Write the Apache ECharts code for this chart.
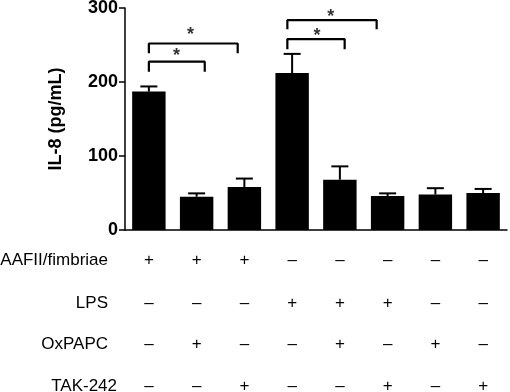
<!DOCTYPE html>
<html>
<head>
<meta charset="utf-8">
<script src="https://cdn.jsdelivr.net/npm/echarts@6/dist/echarts.min.js"></script>
<style>
  html, body { margin: 0; padding: 0; background: #fff; }
  #chart { width: 510px; height: 392px; }
</style>
</head>
<body>
<div id="chart"></div>
<script>
// groups (one per column of the treatment table)
var groups = ['G1', 'G2', 'G3', 'G4', 'G5', 'G6', 'G7', 'G8'];
// IL-8 mean and error (pg/mL)
var il8Mean = [187, 45, 58, 212, 68, 46, 48, 50];
var il8Err = [7, 4.5, 11.5, 26, 18, 3.5, 8.5, 5.5];

// treatment table below the bars
var rowNames = ['AAFII/fimbriae', 'LPS', 'OxPAPC', 'TAK-242'];
var rowAAFII = ['+', '+', '+', '–', '–', '–', '–', '–'];
var rowLPS = ['–', '–', '–', '+', '+', '+', '–', '–'];
var rowOxPAPC = ['–', '+', '–', '–', '+', '–', '+', '–'];
var rowTAK = ['–', '–', '+', '–', '–', '+', '–', '+'];

// significance brackets: [xLeft, xRight, yTop, yDrop] (x in group index units)
var brackets = [
  [0, 1.17, 227.5, 214],
  [0, 1.86, 252, 239],
  [2.9, 4.1, 258, 244.3],
  [2.9, 4.77, 283.6, 271.4]
];
// asterisks: [x, y]
var stars = [[0.58, 240], [0.87, 268.7], [3.52, 267], [3.81, 293]];

var FONT = 'Arial, "Liberation Sans", Helvetica, sans-serif';
var chart = echarts.init(document.getElementById('chart'));

var tableRows = [rowAAFII, rowLPS, rowOxPAPC, rowTAK];
var rowOffsets = [30, 73, 114, 156];
var rowGaps = [17, 17, 17, 8];

var xAxes = [{
  type: 'category',
  data: groups,
  position: 'bottom',
  axisLine: { onZero: false, lineStyle: { color: '#000', width: 1.5 } },
  axisTick: { alignWithLabel: true, length: 5, lineStyle: { color: '#000', width: 1.5 } },
  axisLabel: { show: false },
  splitLine: { show: false }
}, {
  // hidden value axis for brackets and stars
  type: 'value',
  min: -0.5,
  max: 7.5,
  show: false
}];

tableRows.forEach(function (row, i) {
  xAxes.push({
    type: 'category',
    data: row,
    position: 'bottom',
    offset: rowOffsets[i],
    name: rowNames[i],
    nameLocation: 'start',
    nameGap: rowGaps[i],
    nameTextStyle: { fontFamily: FONT, fontSize: 17, color: '#000', verticalAlign: 'middle' },
    axisLine: { show: false, onZero: false },
    axisTick: { show: false },
    axisLabel: { margin: 0, verticalAlign: 'middle', fontFamily: FONT, fontSize: 17, color: '#000', interval: 0 },
    splitLine: { show: false }
  });
});

var series = [{
  type: 'bar',
  data: il8Mean,
  barWidth: '70%',
  itemStyle: { color: '#000' },
  silent: true,
  z: 2
}, {
  type: 'custom',
  data: il8Mean.map(function (m, i) { return [i, m, il8Err[i]]; }),
  renderItem: function (params, api) {
    var base = api.coord([api.value(0), api.value(1)]);
    var top = api.coord([api.value(0), api.value(1) + api.value(2)]);
    var hw = 8.5;
    var st = { stroke: '#000', lineWidth: 2 };
    return {
      type: 'group',
      children: [
        { type: 'line', shape: { x1: base[0], y1: base[1], x2: top[0], y2: top[1] }, style: st },
        { type: 'line', shape: { x1: top[0] - hw, y1: top[1], x2: top[0] + hw, y2: top[1] }, style: st }
      ]
    };
  },
  z: 3
}];

brackets.forEach(function (b) {
  series.push({
    type: 'line',
    xAxisIndex: 1,
    data: [[b[0], b[3]], [b[0], b[2]], [b[1], b[2]], [b[1], b[3]]],
    symbol: 'none',
    lineStyle: { color: '#000', width: 2.2 },
    silent: true,
    z: 4
  });
});

series.push({
  type: 'scatter',
  xAxisIndex: 1,
  data: stars,
  symbolSize: 1,
  itemStyle: { color: 'rgba(0,0,0,0)' },
  label: {
    show: true,
    position: 'inside',
    formatter: '*',
    fontFamily: FONT,
    fontSize: 18,
    fontWeight: 'bold',
    color: '#000',
    offset: [0, 4]
  },
  silent: true,
  z: 5
});

var option = {
  animation: false,
  backgroundColor: '#fff',
  grid: { left: 125, right: 3, top: 8, bottom: 162, containLabel: false, outerBoundsMode: 'none' },
  xAxis: xAxes,
  yAxis: {
    type: 'value',
    min: 0,
    max: 300,
    interval: 100,
    name: 'IL-8 (pg/mL)',
    nameLocation: 'middle',
    nameGap: 60,
    nameTextStyle: { fontFamily: FONT, fontSize: 18, fontWeight: 'bold', color: '#000' },
    axisLine: { show: true, onZero: false, lineStyle: { color: '#000', width: 1.5 } },
    axisTick: { show: true, length: 6, lineStyle: { color: '#000', width: 1.5 } },
    axisLabel: { fontFamily: FONT, fontSize: 18, fontWeight: 'bold', color: '#000', margin: 7 },
    splitLine: { show: false }
  },
  series: series
};

chart.setOption(option);
</script>
</body>
</html>
